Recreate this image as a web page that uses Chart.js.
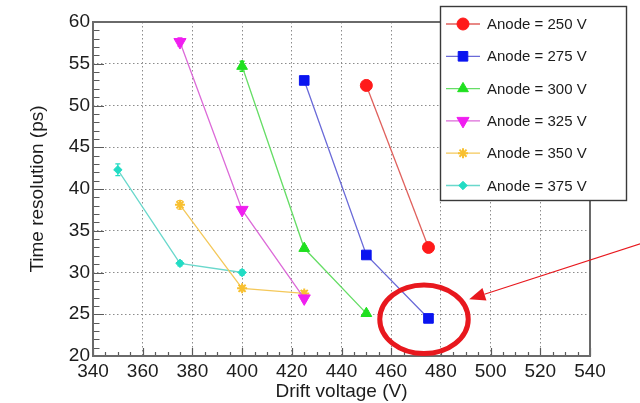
<!DOCTYPE html>
<html>
<head>
<meta charset="utf-8">
<title>Time resolution vs drift voltage</title>
<script src="https://cdn.jsdelivr.net/npm/chart.js@4.4.1/dist/chart.umd.min.js"></script>
<style>
  html, body { margin: 0; padding: 0; background: #ffffff; }
  canvas { display: block; }
</style>
</head>
<body>
<canvas id="chart" width="640" height="403"></canvas>
<script>
// Measured time resolution (ps) against drift voltage (V), one series per anode voltage
const seriesLabels = ['Anode = 250 V', 'Anode = 275 V', 'Anode = 300 V',
                      'Anode = 325 V', 'Anode = 350 V', 'Anode = 375 V'];

const drift250 = [450, 475];
const res250   = [52.4, 33.0];
const err250   = [0.6, 0.4];

const drift275 = [425, 450, 475];
const res275   = [53.0, 32.1, 24.5];
const err275   = [0.3, 0.3, 0.3];

const drift300 = [400, 425, 450];
const res300   = [54.7, 32.9, 25.1];
const err300   = [0.6, 0.3, 0.3];

const drift325 = [375, 400, 425];
const res325   = [57.6, 37.5, 26.9];
const err325   = [0.5, 0.3, 0.3];

const drift350 = [375, 400, 425];
const res350   = [38.1, 28.1, 27.5];
const err350   = [0.5, 0.3, 0.3];

const drift375 = [350, 375, 400];
const res375   = [42.3, 31.1, 30.0];
const err375   = [0.7, 0.3, 0.3];

// Axis ranges and tick steps
const xRange = [340, 540];
const yRange = [20, 60];
const xMajorStep = 20, xMinorStep = 5;
const yMajorStep = 5,  yMinorStep = 1;

// Highlight around the lowest point, in axis units (V, ps)
const highlightCenter = [473.2, 24.4];
const highlightRadius = [17.8, 4.1];
const arrowStart = [562, 33.6];
const arrowTip   = [491.4, 26.8];

const FONT = "'Liberation Sans', Arial, Helvetica, sans-serif";
const INK = '#1c1c1c';

function toPoints(xs, ys) { return xs.map((x, i) => ({ x: x, y: ys[i] })); }

// Marker and line styles per series
const styles = [
  { marker: '#ff1a1a', line: '#e0605c', pointStyle: 'circle',   radius: 6.0, rotation: 0 },
  { marker: '#0a14f0', line: '#6a6ad8', pointStyle: 'rect',     radius: 6.8, rotation: 0 },
  { marker: '#1fe01f', line: '#66dd66', pointStyle: 'triangle', radius: 6.2, rotation: 0 },
  { marker: '#f01ef0', line: '#dc6ad8', pointStyle: 'triangle', radius: 7.0, rotation: 180 },
  { marker: '#f8c030', line: '#f4c85a', pointStyle: 'star',     radius: 5.0, rotation: 0 },
  { marker: '#22dcc4', line: '#6ad8cc', pointStyle: 'rectRot',  radius: 4.2, rotation: 0 }
];

const xsList  = [drift250, drift275, drift300, drift325, drift350, drift375];
const ysList  = [res250, res275, res300, res325, res350, res375];
const errList = [err250, err275, err300, err325, err350, err375];

const datasets = seriesLabels.map((label, i) => ({
  label: label,
  data: toPoints(xsList[i], ysList[i]),
  errors: errList[i],
  showLine: true,
  tension: 0,
  borderColor: styles[i].line,
  backgroundColor: styles[i].marker,
  borderWidth: 1.3,
  pointStyle: styles[i].pointStyle,
  pointRadius: styles[i].radius,
  pointHoverRadius: styles[i].radius,
  pointRotation: styles[i].rotation,
  pointBackgroundColor: styles[i].marker,
  pointBorderColor: styles[i].marker,
  pointBorderWidth: styles[i].pointStyle === 'star' ? 2 : 1,
  clip: false
}));

// Vertical error bars with small end caps, drawn beneath the markers
const errorBars = {
  id: 'errorBars',
  beforeDatasetsDraw(chart) {
    const { ctx, scales: { x, y } } = chart;
    ctx.save();
    chart.data.datasets.forEach((ds) => {
      if (!ds.errors) return;
      ctx.strokeStyle = ds.pointBackgroundColor;
      ctx.lineWidth = 1.3;
      ds.data.forEach((p, j) => {
        const e = ds.errors[j];
        const px = x.getPixelForValue(p.x);
        const top = y.getPixelForValue(p.y + e);
        const bot = y.getPixelForValue(p.y - e);
        ctx.beginPath();
        ctx.moveTo(px, top); ctx.lineTo(px, bot);
        ctx.moveTo(px - 2.5, top); ctx.lineTo(px + 2.5, top);
        ctx.moveTo(px - 2.5, bot); ctx.lineTo(px + 2.5, bot);
        ctx.stroke();
      });
    });
    ctx.restore();
  }
};

// Plot frame with inward-pointing major and minor tick marks
const frame = {
  id: 'frame',
  beforeDatasetsDraw(chart) {
    const { ctx, chartArea: a, scales: { x, y } } = chart;
    ctx.save();
    ctx.strokeStyle = '#5a5a5a';
    ctx.lineWidth = 1.2;
    ctx.beginPath();
    for (let v = yRange[0]; v <= yRange[1] + 1e-9; v += yMinorStep) {
      const py = Math.round(y.getPixelForValue(v)) + 0.5;
      const len = (Math.round(v) % yMajorStep === 0) ? 11 : 6.5;
      ctx.moveTo(a.left, py); ctx.lineTo(a.left + len, py);
    }
    for (let v = xRange[0]; v <= xRange[1] + 1e-9; v += xMinorStep) {
      const px = Math.round(x.getPixelForValue(v)) + 0.5;
      const len = (Math.round(v) % xMajorStep === 0) ? 8 : 4;
      ctx.moveTo(px, a.bottom); ctx.lineTo(px, a.bottom - len);
    }
    ctx.stroke();
    ctx.lineWidth = 2;
    ctx.strokeStyle = '#6a6a6a';
    ctx.strokeRect(a.left, a.top, a.right - a.left, a.bottom - a.top);
    ctx.restore();
  }
};

// Boxed legend in the upper right corner
const boxLegend = {
  id: 'boxLegend',
  afterDraw(chart) {
    const { ctx } = chart;
    const box = { left: 440.5, top: 6.5, width: 186, height: 194 };
    const rowTop = 24, rowStep = 32.3;
    ctx.save();
    ctx.fillStyle = '#ffffff';
    ctx.fillRect(box.left, box.top, box.width, box.height);
    ctx.strokeStyle = '#3a3a3a';
    ctx.lineWidth = 1.4;
    ctx.strokeRect(box.left, box.top, box.width, box.height);
    chart.data.datasets.forEach((ds, i) => {
      const cy = rowTop + i * rowStep;
      ctx.strokeStyle = ds.borderColor;
      ctx.lineWidth = 1.3;
      ctx.beginPath();
      ctx.moveTo(446, cy); ctx.lineTo(480, cy);
      ctx.stroke();
      ctx.fillStyle = ds.pointBackgroundColor;
      ctx.strokeStyle = ds.pointBorderColor;
      ctx.lineWidth = ds.pointBorderWidth;
      Chart.helpers.drawPoint(ctx, {
        pointStyle: ds.pointStyle,
        radius: ds.pointRadius,
        rotation: ds.pointRotation,
        borderWidth: ds.pointBorderWidth
      }, 463, cy);
      ctx.fillStyle = INK;
      ctx.font = '15px ' + FONT;
      ctx.textAlign = 'left';
      ctx.textBaseline = 'middle';
      ctx.fillText(ds.label, 487, cy + 1);
    });
    ctx.restore();
  }
};

// Red ellipse and arrow pointing at the highlighted point
const highlight = {
  id: 'highlight',
  afterDraw(chart) {
    const { ctx, scales: { x, y } } = chart;
    const cx = x.getPixelForValue(highlightCenter[0]);
    const cy = y.getPixelForValue(highlightCenter[1]);
    const rx = Math.abs(x.getPixelForValue(highlightCenter[0] + highlightRadius[0]) - cx);
    const ry = Math.abs(y.getPixelForValue(highlightCenter[1] + highlightRadius[1]) - cy);
    ctx.save();
    ctx.strokeStyle = '#e8181e';
    ctx.lineWidth = 5;
    ctx.beginPath();
    ctx.ellipse(cx, cy, rx, ry, 0, 0, Math.PI * 2);
    ctx.stroke();

    const x0 = x.getPixelForValue(arrowStart[0]), y0 = y.getPixelForValue(arrowStart[1]);
    const x1 = x.getPixelForValue(arrowTip[0]),   y1 = y.getPixelForValue(arrowTip[1]);
    const ang = Math.atan2(y1 - y0, x1 - x0);
    const headLen = 16, headHalf = 6.5;
    const bx = x1 - headLen * Math.cos(ang), by = y1 - headLen * Math.sin(ang);
    ctx.lineWidth = 1.2;
    ctx.beginPath();
    ctx.moveTo(x0, y0); ctx.lineTo(bx, by);
    ctx.stroke();
    ctx.fillStyle = '#e8181e';
    ctx.beginPath();
    ctx.moveTo(x1, y1);
    ctx.lineTo(bx + headHalf * Math.sin(ang), by - headHalf * Math.cos(ang));
    ctx.lineTo(bx - headHalf * Math.sin(ang), by + headHalf * Math.cos(ang));
    ctx.closePath();
    ctx.fill();
    ctx.restore();
  }
};

new Chart(document.getElementById('chart'), {
  type: 'scatter',
  data: { datasets: datasets },
  plugins: [errorBars, frame, boxLegend, highlight],
  options: {
    responsive: false,
    animation: false,
    devicePixelRatio: 1,
    layout: { padding: { top: 22, right: 50, left: 0, bottom: 0 } },
    plugins: {
      legend: { display: false },
      tooltip: { enabled: false }
    },
    scales: {
      x: {
        type: 'linear',
        min: xRange[0], max: xRange[1],
        afterFit(scale) { scale.height = 47; },
        ticks: {
          stepSize: xMajorStep,
          padding: 4,
          color: INK,
          font: { family: FONT, size: 19 },
          maxRotation: 0,
          autoSkip: false
        },
        grid: {
          drawTicks: false,
          color: (c) => (c.tick && (c.tick.value === xRange[0] || c.tick.value === xRange[1])) ? 'rgba(0,0,0,0)' : '#8c8c8c',
          lineWidth: 1
        },
        border: { display: false, dash: [1.5, 2.5] },
        title: {
          display: true,
          text: 'Drift voltage (V)',
          color: INK,
          font: { family: FONT, size: 19 },
          padding: { top: 0, bottom: 0 }
        }
      },
      y: {
        type: 'linear',
        min: yRange[0], max: yRange[1],
        afterFit(scale) { scale.width = 93; },
        ticks: {
          stepSize: yMajorStep,
          padding: 3,
          color: INK,
          font: { family: FONT, size: 19 }
        },
        grid: {
          drawTicks: false,
          color: (c) => (c.tick && (c.tick.value === yRange[0] || c.tick.value === yRange[1])) ? 'rgba(0,0,0,0)' : '#8c8c8c',
          lineWidth: 1
        },
        border: { display: false, dash: [1.5, 2.5] },
        title: {
          display: true,
          text: 'Time resolution (ps)',
          color: INK,
          font: { family: FONT, size: 19 },
          padding: { top: 26, bottom: 0 }
        }
      }
    }
  }
});
</script>
</body>
</html>
